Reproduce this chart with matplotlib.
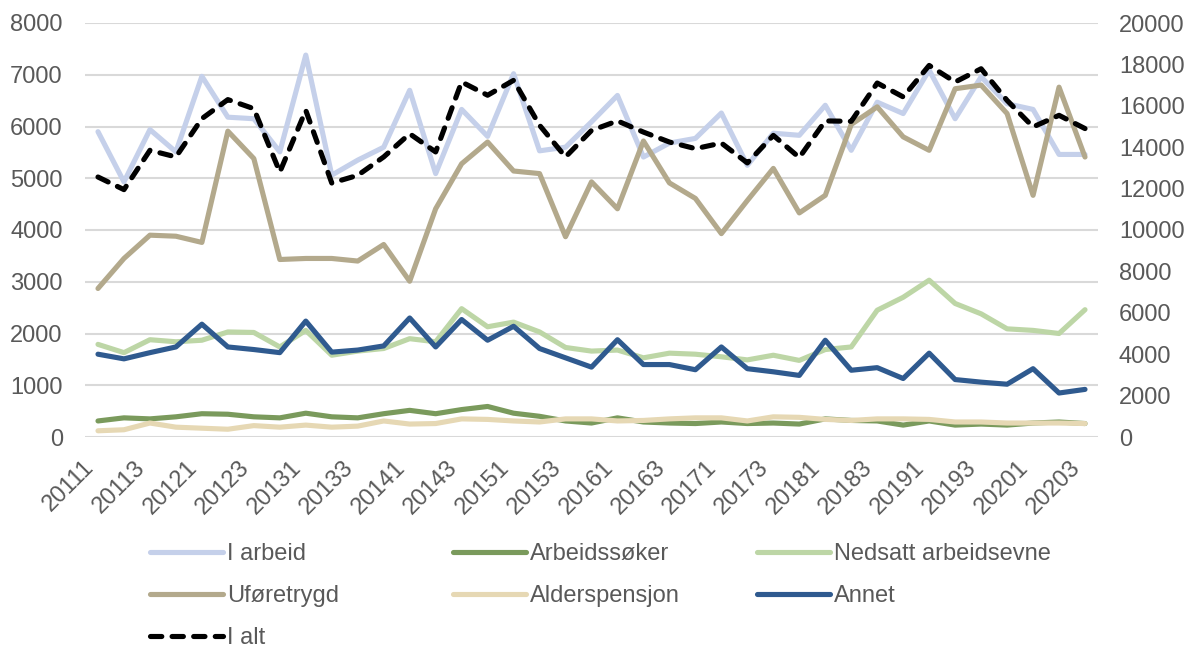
import numpy as np
import matplotlib
matplotlib.use('Agg')
import matplotlib.pyplot as plt

plt.rcParams['font.family'] = ['Liberation Sans', 'DejaVu Sans']

# kvartaler 2011K1 - 2020K3
kvartal = [f"{y}{q}" for y in range(2011, 2021) for q in range(1, 5)][:39]

i_arbeid = [5900, 4930, 5940, 5510, 6970, 6180, 6150, 5510, 7380, 5060, 5350, 5600, 6700,
            5090, 6330, 5810, 7020, 5530, 5600, 6090, 6600, 5410, 5680, 5770, 6260, 5250, 5870, 5830,
            6410, 5540, 6470, 6250, 7090, 6150, 6960, 6440, 6330, 5460, 5460]
arbeidssoker = [310, 370, 350, 390, 450, 440, 390, 370, 460, 390, 370, 450, 515,
                450, 530, 590, 460, 400, 310, 270, 370, 290, 270, 260, 290, 260, 270, 250,
                350, 320, 310, 230, 310, 230, 250, 230, 270, 290, 260]
nedsatt = [1790, 1630, 1880, 1840, 1870, 2030, 2020, 1740, 2060, 1580, 1660, 1710, 1900,
           1840, 2480, 2130, 2220, 2030, 1730, 1660, 1680, 1530, 1620, 1600, 1550, 1490, 1580, 1480,
           1690, 1740, 2450, 2700, 3030, 2580, 2380, 2090, 2060, 2000, 2460]
uforetrygd = [2870, 3450, 3900, 3880, 3760, 5910, 5380, 3430, 3450, 3450, 3400, 3720, 3010,
              4410, 5280, 5700, 5140, 5090, 3870, 4930, 4410, 5720, 4910, 4610, 3930, 4570, 5190, 4330,
              4670, 6040, 6380, 5800, 5540, 6730, 6800, 6250, 4670, 6760, 5410]
alderspensjon = [120, 140, 270, 190, 170, 150, 220, 190, 230, 190, 210, 310, 250,
                 260, 350, 340, 310, 290, 350, 350, 310, 320, 350, 370, 370, 310, 390, 380,
                 340, 320, 350, 350, 340, 290, 290, 270, 270, 270, 260]
annet = [1600, 1510, 1630, 1740, 2180, 1740, 1690, 1630, 2240, 1640, 1680, 1760, 2300,
         1740, 2270, 1870, 2140, 1710, 1530, 1350, 1880, 1400, 1400, 1300, 1740, 1320, 1260, 1190,
         1870, 1290, 1340, 1130, 1620, 1110, 1060, 1020, 1320, 850, 920]
i_alt = [12560, 11950, 13850, 13530, 15380, 16300, 15860, 12800, 15780, 12270, 12640, 13530, 14650,
         13770, 17150, 16510, 17230, 15060, 13530, 14810, 15270, 14730, 14250, 13930, 14200, 13240, 14570, 13500,
         15270, 15250, 17100, 16430, 17950, 17150, 17790, 16260, 14980, 15540, 14900]

serier = [
    ('I arbeid', i_arbeid, '#C5D0EA'),
    ('Arbeidssøker', arbeidssoker, '#7A9A5C'),
    ('Nedsatt arbeidsevne', nedsatt, '#BDD6A6'),
    ('Uføretrygd', uforetrygd, '#B3A98C'),
    ('Alderspensjon', alderspensjon, '#E6D8B4'),
    ('Annet', annet, '#2F5A8F'),
]

tekstfarge = '#595959'
fs = 17

fig = plt.figure(figsize=(11.89, 6.49), dpi=100)
ax = fig.add_axes([85 / 1189, 1 - 437 / 649, 1013 / 1189, 414 / 649])
x = np.arange(len(kvartal))

linjer = {}
for navn, verdier, farge in serier:
    l, = ax.plot(x, verdier, color=farge, lw=3.7, solid_capstyle='round',
                 solid_joinstyle='round', label=navn)
    linjer[navn] = l

ax2 = ax.twinx()
l_alt, = ax2.plot(x, i_alt, color='black', lw=3.7, dashes=(2.2, 2.0),
                  dash_capstyle='round', dash_joinstyle='round', label='I alt')
linjer['I alt'] = l_alt

ax.set_xlim(-0.5, len(kvartal) - 0.5)
ax.set_ylim(0, 8000)
ax.set_yticks(range(0, 8001, 1000))
ax2.set_ylim(0, 20000)
ax2.set_yticks(range(0, 20001, 2000))

ax.set_xticks(x[::2])
ax.set_xticklabels(kvartal[::2], rotation=45, ha='right', fontsize=fs, color=tekstfarge)

ax.grid(axis='y', color='#D9D9D9', lw=1.5)
ax.set_axisbelow(True)
for a in (ax, ax2):
    for s in a.spines.values():
        s.set_visible(False)
ax.tick_params(axis='both', length=0, labelsize=fs, labelcolor=tekstfarge)
ax.tick_params(axis='y', pad=16)
ax.tick_params(axis='x', pad=14)
ax2.tick_params(axis='y', length=0, labelsize=fs, labelcolor=tekstfarge, pad=15)

# legende i tre kolonner
kolonner = [(['I arbeid', 'Uføretrygd', 'I alt'], 150),
            (['Arbeidssøker', 'Alderspensjon'], 453),
            (['Nedsatt arbeidsevne', 'Annet'], 757)]
for navn_liste, xpix in kolonner:
    leg = fig.legend([linjer[n] for n in navn_liste], navn_liste,
                     loc='upper left', bbox_to_anchor=(xpix / 1189, 1 - 543 / 649),
                     frameon=False, fontsize=fs, handlelength=3.1, handletextpad=0.15,
                     labelspacing=0.85, borderpad=0, borderaxespad=0, labelcolor=tekstfarge)

fig.savefig('out.png', dpi=100)
